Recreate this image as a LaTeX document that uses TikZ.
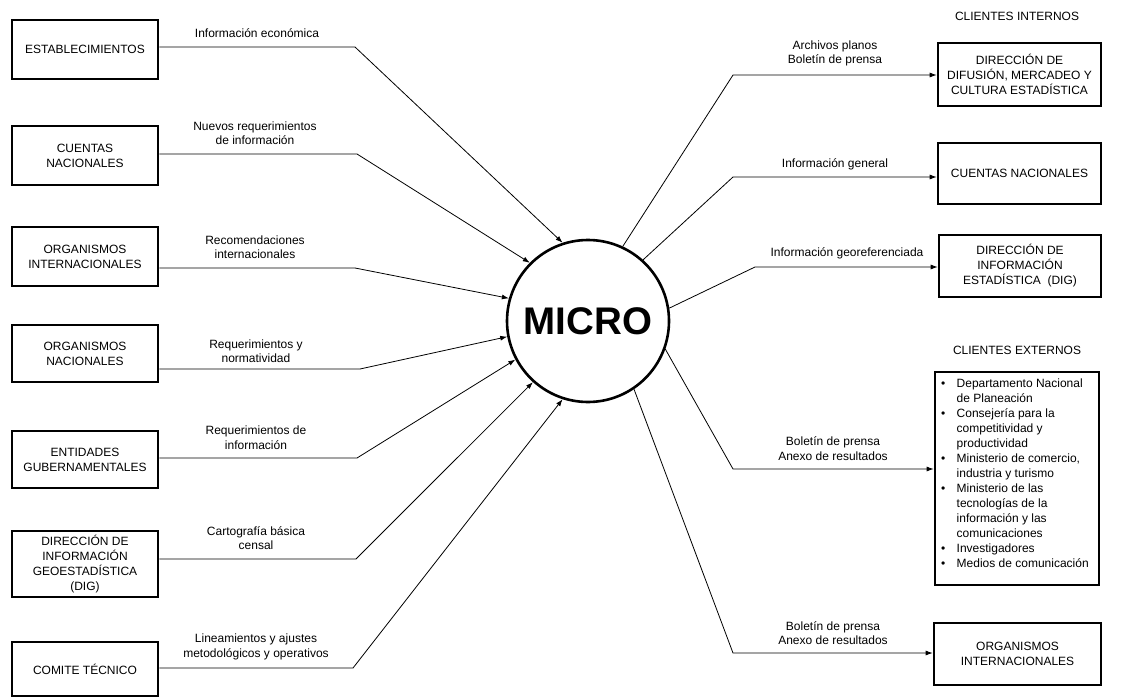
\documentclass[tikz,border=0pt]{standalone}
\usepackage{fontspec}
\setmainfont{Liberation Sans}
\usetikzlibrary{arrows.meta}
\begin{document}
\begin{tikzpicture}[x=1pt,y=-1pt,
  box/.style={draw, line width=2.6pt, minimum width=146pt, align=center,
    font=\fontsize{12}{15}\selectfont, inner sep=2pt},
  lbl/.style={align=center, font=\fontsize{12}{14.5}\selectfont, inner sep=0pt},
  head/.style={font=\fontsize{12}{13}\selectfont, inner sep=0pt},
  conn/.style={line width=0.8pt},
  arr/.style={conn, -{Latex[length=7pt,width=5pt]}}]
\useasboundingbox (0,0) rectangle (1139,698);

% central process
\node[circle, draw, line width=2.6pt, minimum size=162pt, inner sep=0pt,
  font=\fontsize{38.5}{40}\selectfont\bfseries] (M) at (588,321) {MICRO};

% sources (left)
\node[box, minimum height=59pt] (L1) at (85,49.5) {ESTABLECIMIENTOS};
\node[box, minimum height=59pt] (L2) at (85,155.5) {CUENTAS\\NACIONALES};
\node[box, minimum height=59pt] (L3) at (85,256.5) {ORGANISMOS\\INTERNACIONALES};
\node[box, minimum height=57pt] (L4) at (85,353.5) {ORGANISMOS\\NACIONALES};
\node[box, minimum height=57pt] (L5) at (85,459.5) {ENTIDADES\\GUBERNAMENTALES};
\node[box, minimum height=66pt] (L6) at (85,564) {DIRECCIÓN DE\\INFORMACIÓN\\GEOESTADÍSTICA\\(DIG)};
\node[box, minimum height=54pt] (L7) at (85,669) {COMITE TÉCNICO};

% bends of the incoming flows
\coordinate (a1) at (355,47);
\coordinate (a2) at (357,154);
\coordinate (a3) at (355,268);
\coordinate (a4) at (360,369);
\coordinate (a5) at (357,458);
\coordinate (a6) at (356,559);
\coordinate (a7) at (353,668);

\draw[arr] (a1 -| L1.east) -- (a1) -- (M.108.4);
\draw[arr] (a2 -| L2.east) -- (a2) -- (M.135.5);
\draw[arr] (a3 -| L3.east) -- (a3) -- (M.164.8);
\draw[arr] (a4 -| L4.east) -- (a4) -- (M.191.6);
\draw[arr] (a5 -| L5.east) -- (a5) -- (M.208.7);
\draw[arr] (a6 -| L6.east) -- (a6) -- (M.228.4);
\draw[arr] (a7 -| L7.east) -- (a7) -- (M.252.4);

% incoming flow labels
\node[lbl] (t1) at (257,33) {Información económica};
\node[lbl] (t2) at (255,133) {Nuevos requerimientos\\de información};
\node[lbl] (t3) at (255,247) {Recomendaciones\\internacionales};
\node[lbl] (t4) at (256,351) {Requerimientos y\\normatividad};
\node[lbl] (t5) at (256,437.5) {Requerimientos de\\información};
\node[lbl] (t6) at (256,538) {Cartografía básica\\censal};
\node[lbl] (t7) at (256,647) {Lineamientos y ajustes\\metodológicos y operativos};

% internal clients (right)
\node[head] (hi) at (1017,16) {CLIENTES INTERNOS};
\node[box, minimum width=163pt, minimum height=63pt] (R1) at (1019.5,74.5) {DIRECCIÓN DE\\DIFUSIÓN, MERCADEO Y\\CULTURA ESTADÍSTICA};
\node[box, minimum width=163pt, minimum height=61pt] (R2) at (1019.5,173.5) {CUENTAS NACIONALES};
\node[box, minimum width=162pt, minimum height=62pt] (R3) at (1020,266) {DIRECCIÓN DE\\INFORMACIÓN\\ESTADÍSTICA\ \ (DIG)};

% external clients (right)
\node[head] (he) at (1017,350) {CLIENTES EXTERNOS};
\node[draw, line width=2.6pt, minimum width=164pt, minimum height=213pt] (R4) at (1017,478.5) {};
\node[anchor=north west, inner sep=0pt, font=\fontsize{12}{15}\selectfont] (R4t) at (941,377)
{\begin{tabular}{@{}p{15.5pt}@{}l@{}}
\textbullet & Departamento Nacional\\
 & de Planeación\\
\textbullet & Consejería para la\\
 & competitividad y\\
 & productividad\\
\textbullet & Ministerio de comercio,\\
 & industria y turismo\\
\textbullet & Ministerio de las\\
 & tecnologías de la\\
 & información y las\\
 & comunicaciones\\
\textbullet & Investigadores\\
\textbullet & Medios de comunicación
\end{tabular}};
\node[box, minimum width=167pt, minimum height=62pt] (R5) at (1017.5,654) {ORGANISMOS\\INTERNACIONALES};

% bends of the outgoing flows
\coordinate (b1) at (733,75);
\coordinate (b2) at (733,177);
\coordinate (b3) at (755,267);
\coordinate (b4) at (733,469);
\coordinate (b5) at (733,653);

\draw[arr] (M.65.9) -- (b1) -- (b1 -| R1.west);
\draw[arr] (M.48.3) -- (b2) -- (b2 -| R2.west);
\draw[arr] (M.9) -- (b3) -- (b3 -| R3.west);
\draw[arr] (M.-20) -- (b4) -- (b4 -| R4.west);
\draw[arr] (M.-56.9) -- (b5) -- (b5 -| R5.west);

% outgoing flow labels
\node[lbl] (u1) at (835,53.5) {Archivos planos\\Boletín de prensa};
\node[lbl] (u2) at (835,164) {Información general};
\node[lbl] (u3) at (847,253) {Información georeferenciada};
\node[lbl] (u4) at (833,448.5) {Boletín de prensa\\Anexo de resultados};
\node[lbl] (u5) at (833,633) {Boletín de prensa\\Anexo de resultados};
\end{tikzpicture}
\end{document}
